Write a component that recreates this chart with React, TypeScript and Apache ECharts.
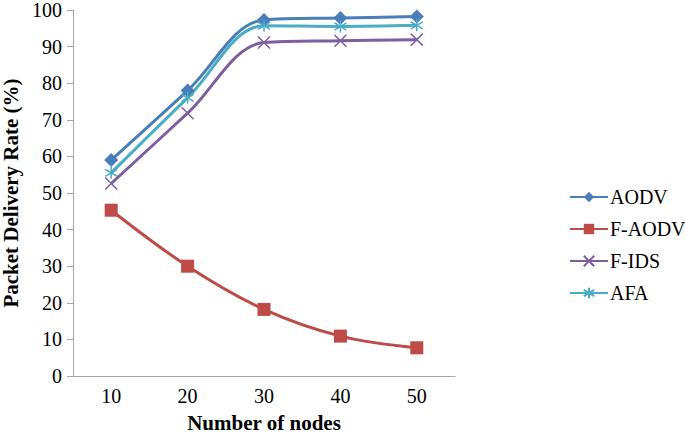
import React, { useEffect, useRef } from "react";
import * as echarts from "echarts";

const categories = ["10", "20", "30", "40", "50"];
const aodv = [59, 78, 97.3, 97.8, 98.2];
const fAodv = [45.3, 30, 18.2, 10.9, 7.7];
const fIds = [52.6, 71.8, 91.1, 91.6, 91.9];
const afa = [55.5, 76, 95.7, 95.5, 95.8];
const yTicks = { min: 0, max: 100, interval: 10 };

const FONT = "'Liberation Serif', 'Times New Roman', serif";
const X_PATH = "path://M0,0 L10,10 M10,0 L0,10";
const STAR_PATH = "path://M5,0 L5,10 M0,2 L10,8 M0,8 L10,2";

export default function App() {
  const ref = useRef<HTMLDivElement>(null);
  useEffect(() => {
    if (!ref.current) return;
    const chart = echarts.init(ref.current, undefined, { renderer: "svg" });
    const mk = (name: string, data: number[], color: string, symbol: string, size: number, stroke: boolean) => ({
      name,
      type: "line",
      data,
      smooth: 0.35,
      symbol,
      symbolSize: size,
      showSymbol: true,
      lineStyle: { color, width: 3 },
      itemStyle: stroke
        ? { color: "rgba(0,0,0,0)", borderColor: color, borderWidth: 1.5 }
        : { color, borderWidth: 0 },
      z: 2,
    });
    chart.setOption({
      animation: false,
      backgroundColor: "#ffffff",
      grid: { left: 73, top: 10, right: 230, bottom: 58, containLabel: false, outerBoundsMode: "none" },
      legend: {
        orient: "vertical",
        left: 564,
        top: 182,
        itemWidth: 38,
        itemHeight: 13,
        itemGap: 12,
        textStyle: { fontFamily: FONT, fontSize: 20, color: "#000", padding: [0, 0, 0, -3] },
        data: ["AODV", "F-AODV", "F-IDS", "AFA"],
      },
      xAxis: {
        type: "category",
        data: categories,
        boundaryGap: true,
        name: "Number of nodes",
        nameLocation: "middle",
        nameGap: 38,
        nameTextStyle: { fontFamily: FONT, fontSize: 21, fontWeight: "bold", color: "#000", lineHeight: 17 },
        axisLine: { lineStyle: { color: "#a6a6a6", width: 1 } },
        axisTick: { show: false },
        axisLabel: { fontFamily: FONT, fontSize: 20, color: "#000", margin: 10 },
        splitLine: { show: false },
      },
      yAxis: {
        type: "value",
        min: yTicks.min,
        max: yTicks.max,
        interval: yTicks.interval,
        name: "Packet Delivery Rate (%)",
        nameLocation: "middle",
        nameGap: 51,
        nameRotate: 90,
        nameTextStyle: { fontFamily: FONT, fontSize: 21, fontWeight: "bold", color: "#000", lineHeight: 17 },
        axisLine: { show: true, lineStyle: { color: "#a6a6a6", width: 1 } },
        axisTick: { show: true, inside: false, length: 6, lineStyle: { color: "#a6a6a6" } },
        axisLabel: { fontFamily: FONT, fontSize: 20, color: "#000", margin: 11, lineHeight: 15 },
        splitLine: { show: false },
      },
      series: [
        mk("AODV", aodv, "#4a7ebb", "diamond", 14, false),
        mk("F-AODV", fAodv, "#be4b48", "rect", 13, false),
        mk("F-IDS", fIds, "#7d5fa0", X_PATH, 12, true),
        mk("AFA", afa, "#4bacc6", STAR_PATH, 12, true),
      ],
    });
    return () => chart.dispose();
  }, []);
  return <div ref={ref} style={{ width: 685, height: 434, position: "absolute", left: 0, top: 0 }} />;
}
